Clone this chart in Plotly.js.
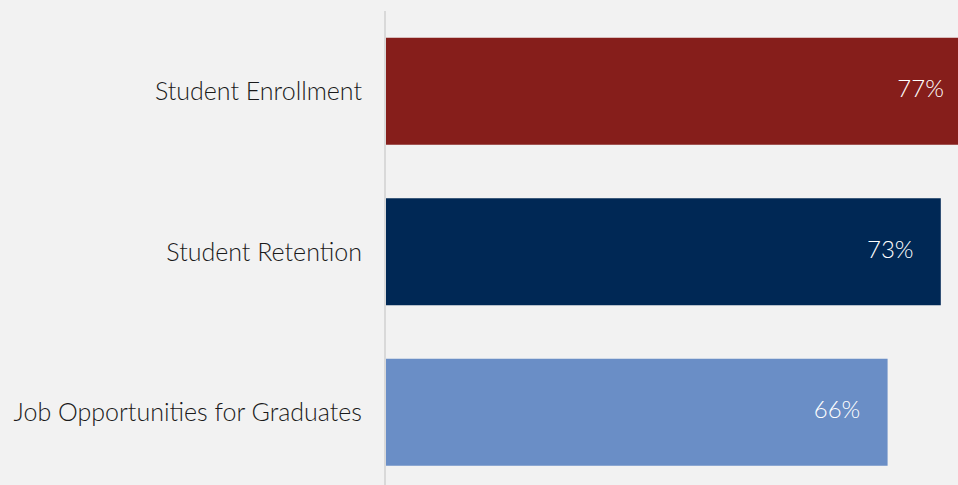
<!DOCTYPE html>
<html>
<head>
<meta charset="utf-8">
<script src="https://cdn.plot.ly/plotly-3.0.1.min.js"></script>
<style>html,body{margin:0;padding:0;background:#f2f2f2;overflow:hidden;}#wrap{width:958px;height:485px;overflow:hidden;}#chart{width:980px;height:485px;}</style>
</head>
<body>
<div id="wrap"><div id="chart"></div></div>
<script>
const categories = ["Student Enrollment", "Student Retention", "Job Opportunities for Graduates"];
const values = [77, 73, 66];
const valueLabels = ["77%", "73%", "66%"];
const barColors = ["#861e1b", "#002855", "#6a8ec6"];

const bars = {
  type: "bar",
  orientation: "h",
  y: categories,
  x: values,
  marker: {color: barColors},
  hoverinfo: "none"
};

const labels = {
  type: "scatter",
  mode: "markers+text",
  y: categories,
  x: values,
  text: valueLabels,
  textposition: "middle left",
  marker: {size: 42, opacity: 0},
  textfont: {color: "#ffffff", size: 24, family: "Lato, sans-serif", weight: 300},
  cliponaxis: false,
  hoverinfo: "none"
};

const layout = {
  width: 980,
  height: 485,
  margin: {l: 386, r: 0, t: 11, b: 0, pad: 0},
  paper_bgcolor: "#f2f2f2",
  plot_bgcolor: "#f2f2f2",
  bargap: 0.333,
  showlegend: false,
  font: {family: "Lato, sans-serif", color: "#1a1a1a"},
  xaxis: {range: [0, 78.16], visible: false, fixedrange: true},
  yaxis: {
    range: [2.453, -0.5],
    showline: true,
    linecolor: "#d9d9d9",
    linewidth: 2,
    showgrid: false,
    zeroline: false,
    ticks: "",
    ticklabelstandoff: 17,
    tickfont: {size: 25, color: "#1a1a1a", family: "Lato, sans-serif", weight: 300},
    fixedrange: true
  }
};

Plotly.newPlot("chart", [bars, labels], layout, {displayModeBar: false, staticPlot: true});
</script>
</body>
</html>
